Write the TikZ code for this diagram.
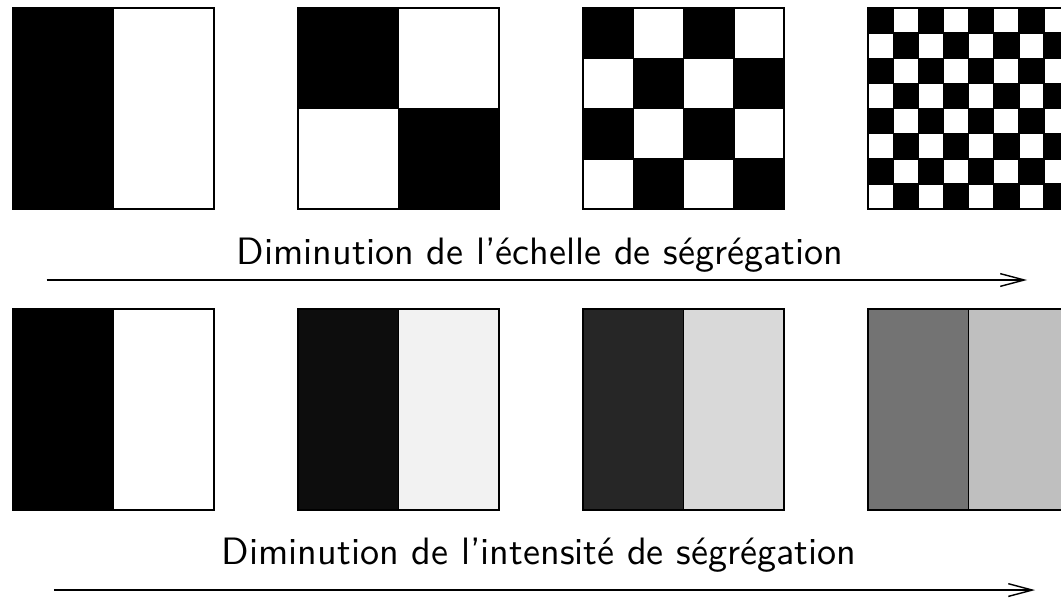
\documentclass[tikz,border=0pt]{standalone}
\usetikzlibrary{arrows.meta}
\begin{document}
\begin{tikzpicture}[line join=miter,every node/.style={font=\sffamily\fontsize{10.8}{13}\selectfont},
  sep/.style={line width=0.4pt,-{Straight Barb[length=6.8pt,width=3.6pt]}}]
  \def\a{2}\def\p{2.836}\def\xo{0.13}\def\ya{-0.08}\def\yb{-3.075}
  \useasboundingbox (0,0) rectangle (10.557,-5.950);
  % echelle de segregation
  \foreach \nc/\nr/\k in {2/1/0,2/2/1,4/4/2,8/8/3}{
    \pgfmathsetmacro{\x}{\xo+\k*\p}
    \pgfmathsetmacro{\w}{\a/\nc}\pgfmathsetmacro{\h}{\a/\nr}
    \pgfmathtruncatemacro{\ic}{\nc-1}\pgfmathtruncatemacro{\jr}{\nr-1}
    \foreach \i in {0,...,\ic} \foreach \j in {0,...,\jr}{
      \pgfmathtruncatemacro{\s}{\i+\j}
      \ifodd\s\def\col{white}\else\def\col{black}\fi
      \draw[fill=\col,line width=0.4pt] (\x+\i*\w,\ya-\j*\h) rectangle ++(\w,-\h);
    }
  }
  % intensite de segregation
  \foreach \l/\r/\k in {100/0/0,95/5/1,85/15/2,55/25/3}{
    \pgfmathsetmacro{\x}{\xo+\k*\p}
    \fill[black!\l] (\x,\yb) rectangle ++(\a/2,-\a);
    \fill[black!\r] (\x+\a/2,\yb) rectangle ++(\a/2,-\a);
    \draw[line width=0.4pt] (\x,\yb) rectangle ++(\a,-\a) (\x+\a/2,\yb) -- ++(0,-\a);
  }
  \node[anchor=base] (echelle) at (5.373,-2.627) {Diminution de l'échelle de ségrégation};
  \node[anchor=base] (intens) at (5.363,-5.612) {Diminution de l'intensité de ségrégation};
  \coordinate (e1) at (0.465,-2.786); \coordinate (e2) at (10.219,-2.786);
  \coordinate (i1) at (0.537,-5.871); \coordinate (i2) at (10.299,-5.871);
  \draw[sep] (e1) -- (e2); \draw[sep] (i1) -- (i2);
\end{tikzpicture}
\end{document}
